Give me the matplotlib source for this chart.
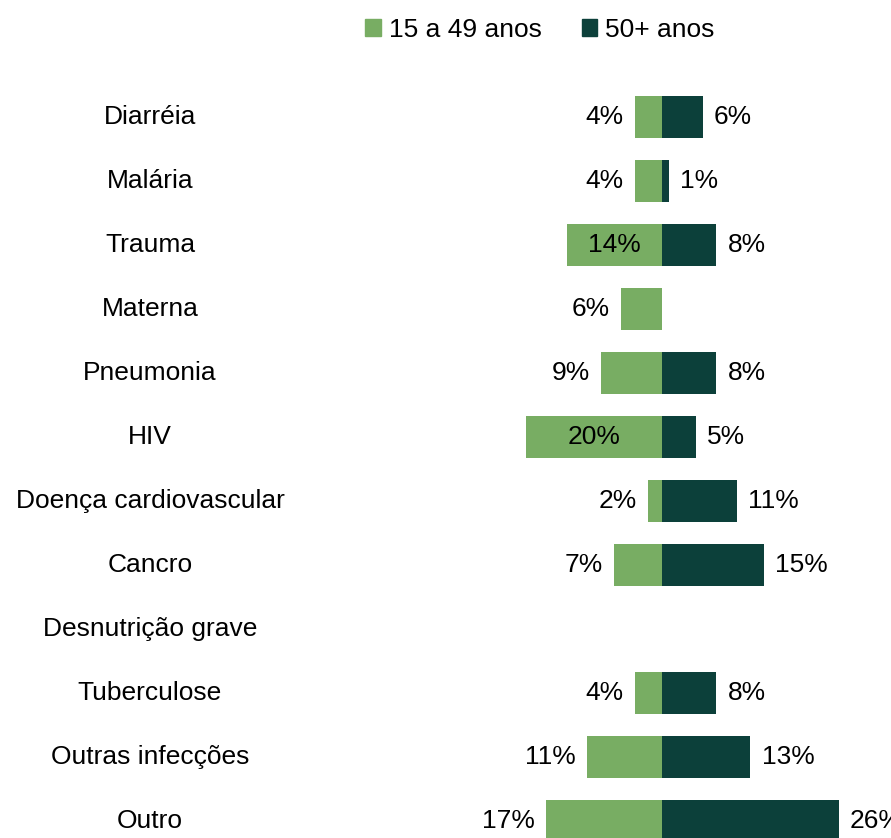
import matplotlib.pyplot as plt
from matplotlib.patches import Patch
import matplotlib.transforms as mtransforms

categories = ['Diarréia', 'Malária', 'Trauma', 'Materna', 'Pneumonia', 'HIV',
              'Doença cardiovascular', 'Cancro', 'Desnutrição grave',
              'Tuberculose', 'Outras infecções', 'Outro']
young = [4, 4, 14, 6, 9, 20, 2, 7, 0, 4, 11, 17]     # 15 a 49 anos
older = [6, 1, 8, 0, 8, 5, 11, 15, 0, 8, 13, 26]     # 50+ anos
inside = ['Trauma', 'HIV']

light = '#78AD63'
dark = '#0C403A'

plt.rcParams['font.family'] = ['Liberation Sans', 'DejaVu Sans']

fig = plt.figure(figsize=(8.91, 8.38), dpi=100)
ax = fig.add_axes([0, 0, 1, 1])

# 1% ~ 6.8 px, zero line at x=662 px
ppu = 6.8
ax.set_xlim(-662 / ppu, (891 - 662) / ppu)
ax.set_ylim((838 - 117) / 64, -117 / 64)
ax.axis('off')

ypos = list(range(len(categories)))
ax.barh(ypos, [-v for v in young], height=0.66, color=light)
ax.barh(ypos, older, height=0.66, color=dark)

fs = 19
for i, cat in enumerate(categories):
    tr = mtransforms.blended_transform_factory(ax.transAxes, ax.transData)
    ax.text(150 / 891, i, cat, transform=tr, ha='center', va='center', fontsize=fs)
    if young[i]:
        if cat in inside:
            ax.text(-young[i] / 2, i, f'{young[i]}%', ha='center', va='center', fontsize=fs)
        else:
            ax.annotate(f'{young[i]}%', (-young[i], i), xytext=(-8, 0), textcoords='offset points',
                        ha='right', va='center', fontsize=fs)
    if older[i]:
        ax.annotate(f'{older[i]}%', (older[i], i), xytext=(8, 0), textcoords='offset points',
                    ha='left', va='center', fontsize=fs, annotation_clip=False)

handles = [Patch(color=light, label='15 a 49 anos'), Patch(color=dark, label='50+ anos')]
fig.legend(handles=handles, loc='center', bbox_to_anchor=(540 / 891, 1 - 30 / 838), ncol=2,
           frameon=False, fontsize=fs, handlelength=0.6, handleheight=0.6, handletextpad=0.3,
           columnspacing=1.5)

fig.savefig('out.png', dpi=100)
